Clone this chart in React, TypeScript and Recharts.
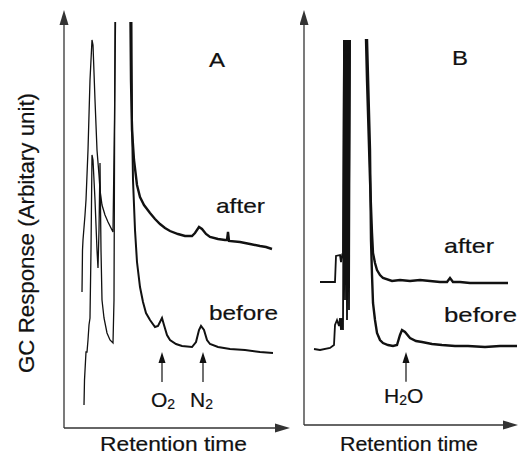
import { LineChart, Line, XAxis, YAxis, ReferenceLine } from 'recharts';

// Panel A (O2 / N2) — retention time vs. response
const afterA_early_t = [0.9, 0.925, 0.95, 1.05, 1.1, 1.2, 1.3, 1.4, 1.45, 1.55, 1.65, 1.75, 1.8, 1.9, 2.05, 2.2, 2.35, 2.45, 2.525, 2.575];
const afterA_early_v = [34, 44.5, 47, 53.25, 57, 69.5, 87, 97, 95.75, 82, 69.5, 63.25, 59.5, 55.75, 53.25, 51.5, 50, 49, 77, 101.5];
const afterA_late_t = [3.325, 3.35, 3.4, 3.5, 3.65, 3.8, 4.0, 4.3, 4.55, 4.8, 5.05, 5.3, 5.7, 6.05, 6.4, 6.55, 6.75, 6.9, 7.1, 7.3, 7.7, 8.05, 8.15, 8.2, 8.25, 8.8, 9.3, 9.8, 10.1, 10.4];
const afterA_late_v = [101.5, 87, 74.5, 67, 60.75, 57.75, 55.75, 53.75, 52.25, 51, 50, 49.25, 48.5, 48, 48, 48.75, 50.25, 49.75, 48.5, 47.75, 47.25, 47, 47, 49, 46.75, 46.5, 46, 45.5, 45.25, 44.75];

const beforeA_early_t = [1.0, 1.025, 1.1, 1.15, 1.2, 1.25, 1.3, 1.35, 1.4, 1.45, 1.55, 1.65, 1.7, 1.75, 1.8, 1.85, 1.9, 2.0, 2.15, 2.3, 2.45, 2.5, 2.55];
const beforeA_early_v = [5.75, 12, 19, 19, 22, 25.75, 27.5, 44.5, 68.25, 67, 57, 44.5, 40, 49.5, 66.25, 44.5, 32, 27.5, 23.75, 22, 21.25, 32, 101.5];
const beforeA_late_t = [3.375, 3.4, 3.45, 3.55, 3.65, 3.8, 3.95, 4.1, 4.3, 4.55, 4.7, 4.9, 5.0, 5.15, 5.3, 5.6, 5.9, 6.4, 6.6, 6.75, 6.85, 7.0, 7.15, 7.3, 7.7, 8.3, 9.05, 9.8, 10.45];
const beforeA_late_v = [101.5, 77, 62, 49.5, 41.5, 35.25, 31.5, 28.75, 27, 25.25, 25.5, 27.5, 25.75, 23.25, 22, 21, 20.5, 20.25, 21.5, 24.5, 25.5, 24.5, 22, 21, 20.25, 19.75, 19.5, 19, 18.75];

// Panel B (H2O)
const afterB_early_t = [0.8, 1.55, 1.6, 1.8, 1.85, 1.9, 1.95, 2.0, 2.05, 2.1, 2.15, 2.2, 2.25, 2.3];
const afterB_early_v = [35.75, 35.75, 42.25, 42.5, 40.75, 42.25, 41.75, 96.25, 48.75, 96.25, 46.25, 96.25, 56.25, 96.25];
const afterB_late_t = [3.1, 3.15, 3.2, 3.3, 3.4, 3.45, 3.55, 3.65, 3.8, 3.95, 4.4, 4.8, 5.3, 5.8, 6.3, 6.8, 7.15, 7.3, 7.45, 7.8, 8.3, 8.8, 9.55, 10.2];
const afterB_late_v = [96.5, 86.25, 78, 61.25, 48, 43, 40.5, 38.75, 37.5, 36.75, 36, 36.25, 36, 36.25, 36, 35.75, 35.75, 36.75, 35.75, 35.75, 35.5, 35.5, 35.5, 35.5];

const beforeB_early_t = [0.5, 0.8, 1.3, 1.5, 1.55, 1.65, 1.75, 1.8, 1.85, 1.9, 1.95, 2.0, 2.05, 2.1, 2.15, 2.2, 2.25, 2.3];
const beforeB_early_v = [19, 18.75, 19.25, 20, 25, 26.25, 24.75, 26.75, 23.75, 26.75, 23.75, 96.25, 31.25, 96.25, 26.25, 96.25, 28.75, 96.25];
const beforeB_late_t = [3.15, 3.3, 3.35, 3.4, 3.45, 3.55, 3.65, 3.8, 3.95, 4.2, 4.45, 4.65, 4.8, 4.9, 5.05, 5.3, 5.6, 5.9, 6.4, 6.9, 7.55, 8.2, 9.05, 9.8, 10.65];
const beforeB_late_v = [96.5, 68.75, 46.25, 37.5, 30.5, 26.25, 23, 21.25, 20.5, 20, 19.75, 20, 22.5, 23.75, 23.25, 21.75, 21, 20.75, 20.25, 20, 19.75, 19.75, 19.5, 19.75, 19.75];

// peak markers: [time, arrow bottom, arrow tip]
const peakO2 = [4.9, 11.5, 19];
const peakN2 = [6.95, 11.5, 19];
const peakH2O = [5.1, 10.8, 18.25];

const A_X_MAX = 11.3;
const A_Y_MAX = 104.5;
const B_X_MAX = 10.7;
const B_Y_MAX = 103.75;

const FONT = '"Liberation Sans", Arial, Helvetica, sans-serif';
const INK = '#111';

const zip = (t: number[], v: number[]) => t.map((x, i) => ({ t: x, v: v[i] }));

function arrowShape(head: number, half: number, color: string, width: number) {
  return (p: any) => {
    const { x1, y1, x2, y2 } = p;
    const len = Math.hypot(x2 - x1, y2 - y1) || 1;
    const ux = (x2 - x1) / len;
    const uy = (y2 - y1) / len;
    const bx = x2 - ux * head;
    const by = y2 - uy * head;
    const pts = `${x2},${y2} ${bx - uy * half},${by + ux * half} ${bx + uy * half},${by - ux * half}`;
    return (
      <g>
        <line x1={x1} y1={y1} x2={bx} y2={by} stroke={color} strokeWidth={width} />
        <polygon points={pts} fill={color} />
      </g>
    );
  };
}

const axisArrow = arrowShape(15, 4.5, '#333', 1.3);
const peakArrow = arrowShape(11, 3.5, INK, 1.2);

// scanned lettering is a little heavier than plain regular weight
const txt = { fontFamily: FONT, fill: INK, stroke: INK, strokeWidth: 0.2 } as const;

export default function App() {
  return (
    <div style={{ position: 'absolute', left: 0, top: 0, width: 518, height: 457, background: '#fff' }}>
      <div style={{ position: 'absolute', left: 0, top: 0 }}>
        <LineChart width={300} height={457} margin={{ top: 10, right: 10, bottom: 29, left: 64 }}>
          <XAxis type="number" dataKey="t" domain={[0, A_X_MAX]} hide allowDataOverflow />
          <YAxis type="number" domain={[0, A_Y_MAX]} hide allowDataOverflow />
          <ReferenceLine segment={[{ x: 0, y: 0 }, { x: 0, y: A_Y_MAX }]} shape={axisArrow} />
          <ReferenceLine segment={[{ x: 0, y: 0 }, { x: A_X_MAX, y: 0 }]} shape={axisArrow} />
          <ReferenceLine segment={[{ x: peakO2[0], y: peakO2[1] }, { x: peakO2[0], y: peakO2[2] }]} shape={peakArrow} />
          <ReferenceLine segment={[{ x: peakN2[0], y: peakN2[1] }, { x: peakN2[0], y: peakN2[2] }]} shape={peakArrow} />
          <Line data={zip(afterA_early_t, afterA_early_v)} dataKey="v" stroke={INK} strokeWidth={1.3} dot={false} isAnimationActive={false} />
          <Line data={zip(afterA_late_t, afterA_late_v)} dataKey="v" stroke={INK} strokeWidth={2.4} dot={false} isAnimationActive={false} />
          <Line data={zip(beforeA_early_t, beforeA_early_v)} dataKey="v" stroke={INK} strokeWidth={1.3} dot={false} isAnimationActive={false} />
          <Line data={zip(beforeA_late_t, beforeA_late_v)} dataKey="v" stroke={INK} strokeWidth={2} dot={false} isAnimationActive={false} />
          <text {...txt} x={209} y={67} fontSize={20} textLength={16} lengthAdjust="spacingAndGlyphs">A</text>
          <text {...txt} x={216} y={213} fontSize={21} textLength={49} lengthAdjust="spacingAndGlyphs">after</text>
          <text {...txt} x={209} y={320} fontSize={21} textLength={69} lengthAdjust="spacingAndGlyphs">before</text>
          <text {...txt} x={151} y={407} fontSize={21}>O<tspan fontSize={14} dy={2}>2</tspan></text>
          <text {...txt} x={190} y={407} fontSize={21}>N<tspan fontSize={14} dy={2}>2</tspan></text>
          <text {...txt} x={100} y={451} fontSize={21} textLength={147} lengthAdjust="spacingAndGlyphs">Retention time</text>
          <text {...txt} x={34} y={233} fontSize={22} textAnchor="middle" transform="rotate(-90 34 233)" textLength={280} lengthAdjust="spacingAndGlyphs">GC Response (Arbitary unit)</text>
        </LineChart>
      </div>
      <div style={{ position: 'absolute', left: 300, top: 0 }}>
        <LineChart width={218} height={457} margin={{ top: 10, right: 0, bottom: 32, left: 4 }}>
          <XAxis type="number" dataKey="t" domain={[0, B_X_MAX]} hide allowDataOverflow />
          <YAxis type="number" domain={[0, B_Y_MAX]} hide allowDataOverflow />
          <ReferenceLine segment={[{ x: 0, y: 0 }, { x: 0, y: B_Y_MAX }]} shape={axisArrow} />
          <ReferenceLine segment={[{ x: 0, y: 0 }, { x: B_X_MAX, y: 0 }]} shape={axisArrow} />
          <ReferenceLine segment={[{ x: peakH2O[0], y: peakH2O[1] }, { x: peakH2O[0], y: peakH2O[2] }]} shape={peakArrow} />
          <Line data={zip(afterB_early_t, afterB_early_v)} dataKey="v" stroke={INK} strokeWidth={1.8} dot={false} isAnimationActive={false} />
          <Line data={zip(afterB_late_t, afterB_late_v)} dataKey="v" stroke={INK} strokeWidth={2.4} dot={false} isAnimationActive={false} />
          <Line data={zip(beforeB_early_t, beforeB_early_v)} dataKey="v" stroke={INK} strokeWidth={1.8} dot={false} isAnimationActive={false} />
          <Line data={zip(beforeB_late_t, beforeB_late_v)} dataKey="v" stroke={INK} strokeWidth={2.4} dot={false} isAnimationActive={false} />
          <text {...txt} x={152} y={65} fontSize={20} textLength={16} lengthAdjust="spacingAndGlyphs">B</text>
          <text {...txt} x={144} y={253} fontSize={21} textLength={50} lengthAdjust="spacingAndGlyphs">after</text>
          <text {...txt} x={144} y={322} fontSize={21} textLength={73} lengthAdjust="spacingAndGlyphs">before</text>
          <text {...txt} x={84} y={403} fontSize={21}>H<tspan fontSize={14} dy={2}>2</tspan><tspan dy={-2}>O</tspan></text>
          <text {...txt} x={40} y={451} fontSize={21} textLength={138} lengthAdjust="spacingAndGlyphs">Retention time</text>
        </LineChart>
      </div>
    </div>
  );
}
